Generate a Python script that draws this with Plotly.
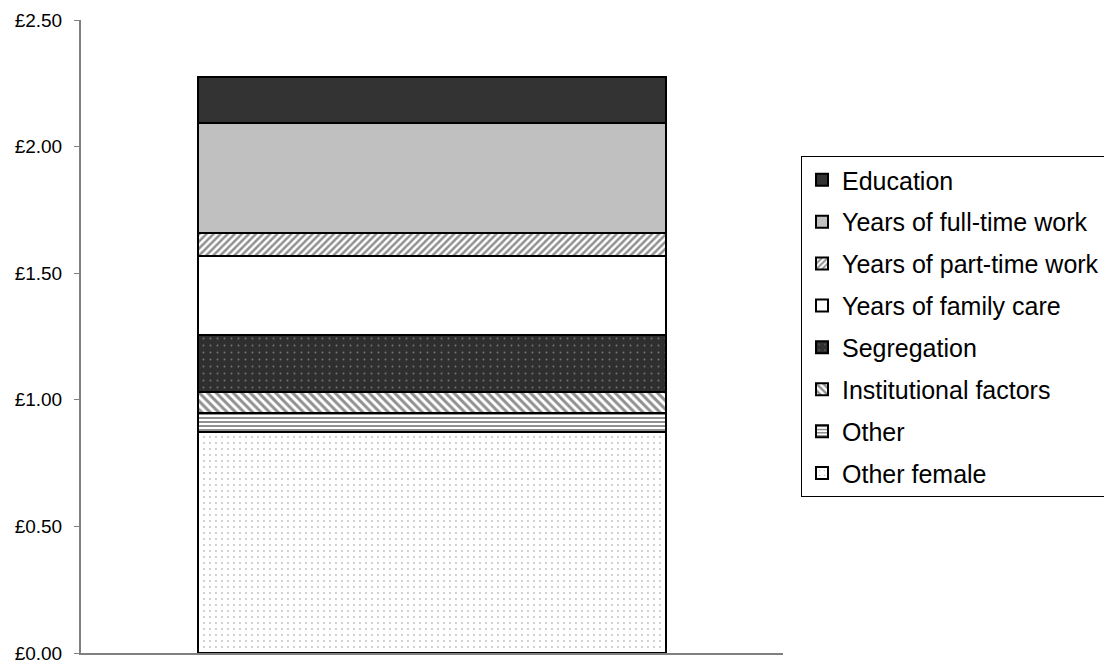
import plotly.graph_objects as go

categories = ["Pay gap"]
# stacked from bottom to top
series_names = ["Other female", "Other", "Institutional factors", "Segregation",
                "Years of family care", "Years of part-time work",
                "Years of full-time work", "Education"]
series_values = [0.874, 0.072, 0.085, 0.224, 0.313, 0.090, 0.434, 0.182]
tick_values = [0.0, 0.5, 1.0, 1.5, 2.0, 2.5]
tick_labels = ["£0.00", "£0.50", "£1.00", "£1.50", "£2.00", "£2.50"]

styles = {
    "Other female": dict(color="white", pattern=dict(shape=".", fgcolor="#808080", bgcolor="white", size=6, solidity=0.08)),
    "Other": dict(color="white", pattern=dict(shape="-", fgcolor="#222222", bgcolor="white", size=4, solidity=0.5)),
    "Institutional factors": dict(color="white", pattern=dict(shape="\\", fgcolor="#222222", bgcolor="white", size=6, solidity=0.5)),
    "Segregation": dict(color="#2f2f2f", pattern=dict(shape=".", fgcolor="#bbbbbb", bgcolor="#2f2f2f", size=7, solidity=0.06)),
    "Years of family care": dict(color="white"),
    "Years of part-time work": dict(color="white", pattern=dict(shape="/", fgcolor="#222222", bgcolor="white", size=5, solidity=0.5)),
    "Years of full-time work": dict(color="#c0c0c0"),
    "Education": dict(color="#333333"),
}

fig = go.Figure()
n = len(series_names)
for i, (name, val) in enumerate(zip(series_names, series_values)):
    st = styles[name]
    marker = dict(color=st["color"], line=dict(color="black", width=2))
    if "pattern" in st:
        marker["pattern"] = st["pattern"]
    fig.add_trace(go.Bar(x=categories, y=[val], name=name, legendgroup=name,
                         legendrank=n - i, marker=marker, hoverinfo="skip"))

W = 1130
fig.update_layout(
    width=W, height=660,
    barmode="stack", bargap=0.332,
    plot_bgcolor="white", paper_bgcolor="white",
    margin=dict(l=81, r=W - 783, t=20, b=7, autoexpand=False),
    font=dict(family="Liberation Sans, Arial, sans-serif", color="black"),
    legend=dict(x=(801 - 81) / 702, y=(653 - 156) / 633, xanchor="left", yanchor="top",
                traceorder="grouped", tracegroupgap=6.4,
                bordercolor="black", borderwidth=1, bgcolor="white",
                font=dict(size=25, family="Liberation Sans, Arial, sans-serif", color="black")),
    showlegend=True,
)
fig.update_yaxes(range=[0, 2.5], tickvals=tick_values, ticktext=tick_labels,
                 showgrid=False, zeroline=False, showline=True, linecolor="#808080",
                 linewidth=2, ticks="outside", ticklen=5, tickwidth=1, tickcolor="#808080",
                 tickfont=dict(size=19), ticklabelstandoff=8, ticklabeloverflow="allow")
fig.update_xaxes(range=[-0.5, 0.5], showticklabels=False, showgrid=False, zeroline=False,
                 showline=True, linecolor="#808080", linewidth=2, ticks="")

fig.write_html("out.html", config={"displayModeBar": False},
               post_script="document.body.style.margin='0';document.body.style.overflow='hidden';")
